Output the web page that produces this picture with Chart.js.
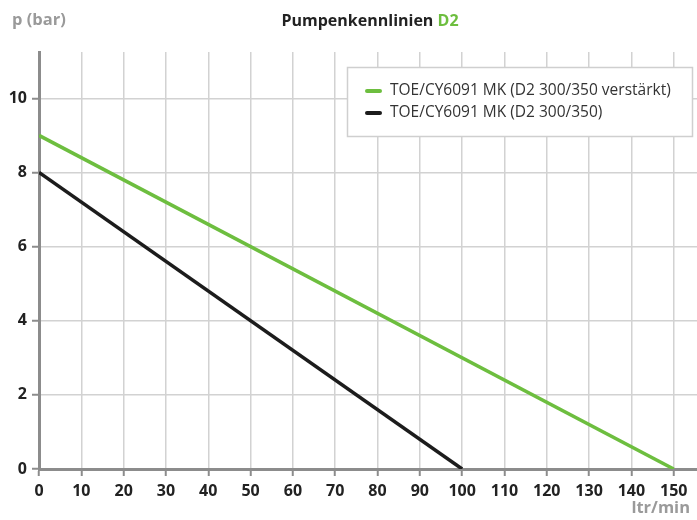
<!DOCTYPE html>
<html>
<head>
<meta charset="utf-8">
<script src="https://cdn.jsdelivr.net/npm/chart.js@4.4.1/dist/chart.umd.min.js"></script>
<style>
html,body{margin:0;padding:0;background:#fff;}
canvas{display:block;}
</style>
</head>
<body>
<canvas id="c" width="697" height="520"></canvas>
<script>
// ---- data ----
const flowVerstaerkt = [0, 150];
const pressureVerstaerkt = [9, 0];
const flowStandard = [0, 100];
const pressureStandard = [8, 0];
const seriesLabels = ['TOE/CY6091 MK (D2 300/350 verstärkt)', 'TOE/CY6091 MK (D2 300/350)'];
const xTicks = [0,10,20,30,40,50,60,70,80,90,100,110,120,130,140,150];
const yTicks = [0,2,4,6,8,10];
const titleMain = 'Pumpenkennlinien ';
const titleAccent = 'D2';
const yAxisTitle = 'p (bar)';
const xAxisTitle = 'ltr/min';

const GREEN = '#6dbe3f';
const BLACK = '#1c1c1c';
const AXIS = '#8c8c8c';
const GRID = '#d2d2d2';
const FONT = '"Open Sans", "Noto Sans", sans-serif';

const pts = (xs, ys) => xs.map((x, i) => ({x, y: ys[i]}));

const textPlugin = {
  id: 'texts',
  afterDraw(chart) {
    const ctx = chart.ctx;
    ctx.save();
    // axis titles
    ctx.font = 'bold 16.5px ' + FONT;
    ctx.fillStyle = '#9a9a9a';
    ctx.textBaseline = 'middle';
    ctx.textAlign = 'left';
    ctx.fillText(yAxisTitle, 12, 20);
    ctx.textAlign = 'right';
    ctx.fillText(xAxisTitle, 690, 508);
    // title
    ctx.font = 'bold 16px ' + FONT;
    const w1 = ctx.measureText(titleMain).width;
    const w2 = ctx.measureText(titleAccent).width;
    const cx = 370;
    const sx = cx - (w1 + w2) / 2;
    ctx.textAlign = 'left';
    ctx.fillStyle = '#222';
    ctx.fillText(titleMain, sx, 21);
    ctx.fillStyle = GREEN;
    ctx.fillText(titleAccent, sx + w1, 21);
    // legend
    const bx = 347.5, by = 67.5, bw = 345, bh = 69;
    ctx.fillStyle = '#fff';
    ctx.fillRect(bx, by, bw, bh);
    ctx.strokeStyle = '#cfcfcf';
    ctx.lineWidth = 1.5;
    ctx.strokeRect(bx, by, bw, bh);
    ctx.font = '15.5px ' + FONT;
    chart.data.datasets.forEach((ds, i) => {
      const y = 91 + i * 22;
      ctx.strokeStyle = ds.borderColor;
      ctx.lineWidth = 4;
      ctx.lineCap = 'round';
      ctx.beginPath();
      ctx.moveTo(367, y);
      ctx.lineTo(380, y);
      ctx.stroke();
      ctx.fillStyle = '#333';
      ctx.textAlign = 'left';
      ctx.textBaseline = 'middle';
      ctx.fillText(ds.label, 390, y);
    });
    ctx.restore();
  }
};

new Chart(document.getElementById('c'), {
  type: 'scatter',
  data: {
    datasets: [
      { label: seriesLabels[0], data: pts(flowVerstaerkt, pressureVerstaerkt), showLine: true,
        borderColor: GREEN, backgroundColor: GREEN, borderWidth: 3.5, pointRadius: 0 },
      { label: seriesLabels[1], data: pts(flowStandard, pressureStandard), showLine: true,
        borderColor: BLACK, backgroundColor: BLACK, borderWidth: 3.5, pointRadius: 0 }
    ]
  },
  options: {
    responsive: false,
    animation: false,
    devicePixelRatio: 1,
    layout: { padding: { top: 52, right: 0, left: 0, bottom: 0 } },
    plugins: { legend: { display: false }, title: { display: false }, tooltip: { enabled: false } },
    scales: {
      x: {
        type: 'linear', min: 0, max: 155.5,
        afterBuildTicks: s => { s.ticks = xTicks.map(v => ({value: v})); },
        afterFit: s => { s.height = 51; },
        grid: { color: GRID, lineWidth: 1.5, tickColor: AXIS, tickLength: 7, tickWidth: 2 },
        border: { color: AXIS, width: 3 },
        ticks: { padding: 6, color: '#222', font: { family: FONT, size: 16, weight: 'bold' }, maxRotation: 0, autoSkip: false }
      },
      y: {
        type: 'linear', min: 0, max: 11.25,
        afterBuildTicks: s => { s.ticks = yTicks.map(v => ({value: v})); },
        afterFit: s => { s.width = 39; },
        grid: { color: GRID, lineWidth: 1.5, tickColor: AXIS, tickLength: 7, tickWidth: 2 },
        border: { color: AXIS, width: 3 },
        ticks: { padding: 5, color: '#222', font: { family: FONT, size: 16, weight: 'bold' } }
      }
    }
  },
  plugins: [textPlugin]
});
</script>
</body>
</html>
